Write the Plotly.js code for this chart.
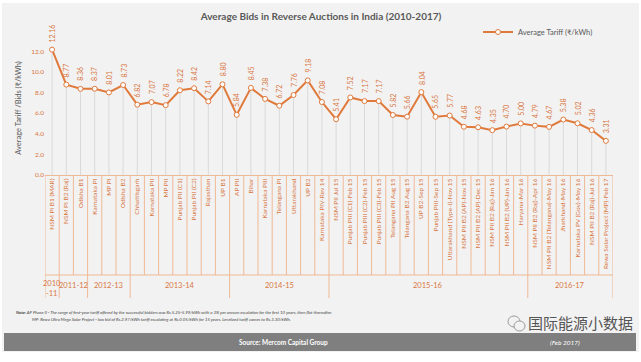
<!DOCTYPE html>
<html>
<head>
<meta charset="utf-8">
<script src="https://cdn.plot.ly/plotly-3.0.1.min.js"></script>
<style>html,body{margin:0;padding:0;background:#fff;}#chart{width:641px;height:362px;}</style>
</head>
<body>
<div id="chart"></div>
<script>
// ---- data ----
const categories = [
  "NSM PI B1 (MAR)", "NSM PI B2 (Raj)", "Odisha B1", "Karnataka PI", "MP PI", "Odisha B2",
  "Chhattisgarh", "Karnataka PII", "MP PII", "Punjab PII (C1)", "Punjab PII (C2)", "Rajasthan", "UP B1",
  "AP PII", "Bihar", "Karnataka PIII", "Telangana PI", "Uttarakhand", "UP B2", "Karnataka PIV-Rev 14",
  "NSM PII Jul 15", "Punjab PIII (C1)-Feb 15", "Punjab PIII (C2)-Feb 15", "Punjab PIII (C3)-Feb 15",
  "Telangana PII Aug 15", "Telangana B2 Aug 15", "UP B2-Sep 15", "Punjab PIII-Sep 15",
  "Uttarakhand (Type-I)-Nov 15", "NSM PII B2 (AP)-Nov 15", "NSM PII B2 (AP)-Dec 15",
  "NSM PII B2 (Raj)-Jan 16", "NSM PII B2 (UP)-Jan 16", "Haryana-Mar 16",
  "NSM PII B2 (Raj)-Apr 16", "NSM PII B2 (Telangana)-May 16", "Jharkhand-May 16",
  "Karnataka PV (Gov)-May 16", "NSM PII B2 (Raj)-Jul 16", "Rewa Solar Project (MP)-Feb 17"
];
const tariffs = [
  12.16, 8.77, 8.36, 8.37, 8.01, 8.73,
  6.82, 7.07, 6.78, 8.22, 8.42, 7.14, 8.80,
  5.84, 8.45, 7.38, 6.72, 7.76, 9.18, 7.08,
  5.41, 7.52, 7.17, 7.17,
  5.82, 5.66, 8.04, 5.65,
  5.77, 4.68, 4.63,
  4.35, 4.70, 5.00,
  4.79, 4.67, 5.38,
  5.02, 4.36, 3.31
];
const fiscalYears = ["2010-11", "2011-12", "2012-13", "2013-14", "2014-15", "2015-16", "2016-17"];
const yearCounts = [1, 2, 3, 7, 7, 14, 6];
const yTicks = [0, 2, 4, 6, 8, 10, 12];
const seriesName = "Average Tariff (\u20B9/kWh)";
const chartTitle = "Average Bids in Reverse Auctions in India (2010-2017)";
const yTitle = "Average Tariff /Bids (\u20B9/kWh)";
const noteLine1 = "<b>Note:</b> AP Phase II - The range of first-year tariff offered by the successful bidders was Rs.5.25-5.99/kWh with a 3% per annum escalation for the first 10 years, then flat thereafter.";
const noteLine2 = "MP: Rewa Ultra Mega Solar Project - low bid of Rs.2.97/kWh tariff escalating at Rs.0.05/kWh for 15 years. Levelized tariff comes to Rs.3.30/kWh.";
const sourceText = "Source: Mercom Capital Group";
const dateText = "(Feb 2017)";
const watermark = "国际能源小数据";

// ---- layout geometry ----
const W = 641, H = 362;
const M = {l: 45, r: 28, t: 41, b: 187};
const PW = W - M.l - M.r, PH = H - M.t - M.b;
const axisY = M.t + PH;
const xp = px => (px - M.l) / PW;
const yp = py => (axisY - py) / PH;

const ORANGE = "#e07a3c";
const LABEL = "#d9773f";
const SEP = "#efb995";
const FONT = "Lato, 'Open Sans', sans-serif";

const trace = {
  type: "scatter", mode: "lines+markers",
  x: categories, y: tariffs, name: seriesName,
  line: {color: ORANGE, width: 2},
  marker: {symbol: "circle", size: 5, color: "#ffffff", line: {color: ORANGE, width: 1}},
  error_y: {type: "data", symmetric: false, array: tariffs.map(() => 0), arrayminus: tariffs,
            color: "#d9d9d9", thickness: 1, width: 0},
  cliponaxis: false
};

const shapes = [];
shapes.push({type: "rect", xref: "paper", yref: "paper", x0: xp(2), x1: xp(639), y0: yp(352), y1: yp(3),
             fillcolor: "#f2f2f2", line: {width: 0}, layer: "below"});
const n = categories.length;
for (let i = 0; i <= n; i++) {
  shapes.push({type: "line", xref: "x", yref: "paper", x0: i - 0.5, x1: i - 0.5, y0: 0, y1: yp(275),
               line: {color: SEP, width: 1}});
}
shapes.push({type: "line", xref: "x", yref: "paper", x0: -0.5, x1: n - 0.5, y0: yp(275), y1: yp(275),
             line: {color: SEP, width: 1}});
let acc = 0;
const bounds = [-0.5];
yearCounts.forEach(c => { acc += c; bounds.push(acc - 0.5); });
bounds.forEach(b => shapes.push({type: "line", xref: "x", yref: "paper", x0: b, x1: b, y0: yp(275), y1: yp(298),
                                 line: {color: SEP, width: 1}}));
shapes.push({type: "rect", xref: "paper", yref: "paper", x0: xp(4), x1: xp(636), y0: yp(351), y1: yp(333),
             fillcolor: "#7f7f7f", line: {width: 0}});
// small chat-bubble icon beside the watermark
shapes.push({type: "circle", xref: "paper", yref: "paper", x0: xp(508), x1: xp(520), y0: yp(327), y1: yp(316),
             line: {color: "#9a9a9a", width: 1}, fillcolor: "rgba(0,0,0,0)"});
shapes.push({type: "circle", xref: "paper", yref: "paper", x0: xp(514), x1: xp(525), y0: yp(331), y1: yp(321),
             line: {color: "#9a9a9a", width: 1}, fillcolor: "#f2f2f2"});

const annotations = [];
categories.forEach((c, i) => {
  const t = tariffs[i].toFixed(2);
  annotations.push({x: c, y: tariffs[i], xref: "x", yref: "y", text: t,
    textangle: -90, showarrow: false, yanchor: "middle", xanchor: "center", yshift: 7.5 + t.length * 1.75,
    font: {family: FONT, size: 7, color: LABEL}});
});
let start = 0;
fiscalYears.forEach((fy, k) => {
  const c = yearCounts[k];
  const mid = start + (c - 1) / 2;
  start += c;
  annotations.push({x: mid, y: 0, xref: "x", yref: "paper", yshift: c === 1 ? -113 : -110,
    text: c === 1 ? fy.replace("-", "<br>-") : fy, showarrow: false, yanchor: "middle",
    font: {family: FONT, size: 7.5, color: LABEL}});
});
annotations.push({x: xp(14), y: yp(312), xref: "paper", yref: "paper", xanchor: "left", yanchor: "middle",
  text: "<i>" + noteLine1 + "</i>", showarrow: false, font: {family: FONT, size: 4.3, color: "#404040"}});
annotations.push({x: xp(30), y: yp(319), xref: "paper", yref: "paper", xanchor: "left", yanchor: "middle",
  text: "<i>" + noteLine2 + "</i>", showarrow: false, font: {family: FONT, size: 4.3, color: "#404040"}});
annotations.push({x: xp(283), y: yp(342), xref: "paper", yref: "paper", xanchor: "center", yanchor: "middle",
  text: "<b>" + sourceText + "</b>", showarrow: false, font: {family: FONT, size: 6.5, color: "#ffffff"}});
annotations.push({x: xp(565), y: yp(342), xref: "paper", yref: "paper", xanchor: "center", yanchor: "middle",
  text: "<i>" + dateText + "</i>", showarrow: false, font: {family: FONT, size: 6.5, color: "#ffffff"}});
annotations.push({x: xp(580), y: yp(322), xref: "paper", yref: "paper", xanchor: "center", yanchor: "middle",
  text: watermark, showarrow: false, font: {family: "'Noto Sans CJK SC', sans-serif", size: 15, color: "#555555"}});

const layout = {
  width: W, height: H,
  margin: M,
  paper_bgcolor: "#ffffff",
  plot_bgcolor: "rgba(0,0,0,0)",
  showlegend: true,
  title: {text: "<b>" + chartTitle + "</b>", x: 321 / W, xanchor: "center", xref: "container",
          y: 1 - 16 / H, yanchor: "middle", yref: "container",
          font: {family: FONT, size: 10, color: "#595959"}},
  legend: {x: xp(478), y: yp(32), xanchor: "left", yanchor: "middle", bgcolor: "rgba(0,0,0,0)",
           font: {family: FONT, size: 7.5, color: "#595959"}, itemwidth: 30},
  xaxis: {type: "category", categoryorder: "array", categoryarray: categories,
          range: [-0.5, n - 0.5], tickangle: -90, showgrid: false, zeroline: false,
          showline: true, linecolor: SEP, linewidth: 1, ticks: "",
          tickfont: {family: FONT, size: 6.5, color: LABEL}, automargin: false},
  yaxis: {range: [0, 13], tickvals: yTicks, ticktext: yTicks.map(v => v.toFixed(1)),
          showgrid: false, zeroline: false, showline: false, ticks: "",
          tickfont: {family: FONT, size: 6.5, color: LABEL}, automargin: false,
          title: {text: yTitle, font: {family: FONT, size: 7.5, color: "#595959"}, standoff: 8}},
  shapes: shapes,
  annotations: annotations
};

Plotly.newPlot("chart", [trace], layout, {displayModeBar: false, staticPlot: true});
</script>
</body>
</html>
